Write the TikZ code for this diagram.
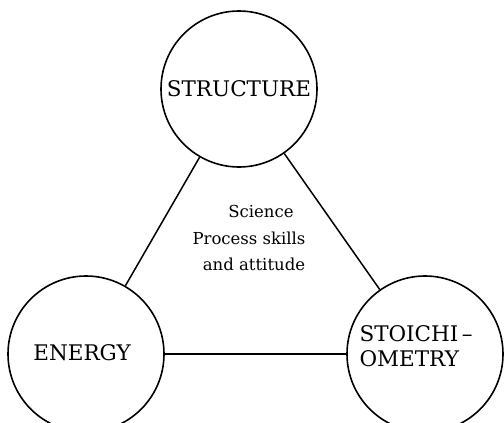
\documentclass[tikz,border=0pt]{standalone}
\usepackage{fontspec}
\setmainfont{DejaVu Serif}
\begin{document}
\begin{tikzpicture}[x=1pt,y=-1pt,
  topic/.style={circle,draw,line width=1.6pt,minimum size=156pt,inner sep=0pt,
    font=\fontsize{21.5}{27}\selectfont},
  link/.style={line width=1.5pt},
  core/.style={align=center,font=\fontsize{16.5}{26.5}\selectfont}]
  \useasboundingbox (0,0) rectangle (504,423);
  \clip (0,0) rectangle (504,423);
  % the three topic circles
  \node[topic] (structure) at (239,89) {STRUCTURE};
  \node[topic] (energy) at (86,354) {};
  \node[topic] (stoich) at (425,354) {};
  \node[font=\fontsize{21.5}{27}\selectfont] (energylabel) at (82,353) {ENERGY};
  \node[font=\fontsize{21.5}{25}\selectfont,align=left,anchor=west] (stoichlabel) at (356,346)
    {STOICHI\,--\\OMETRY};
  % links between the topics
  \draw[link] (structure) -- (energy);
  \draw[link] (structure) -- (stoich);
  \draw[link] (energy) -- (stoich);
  % the centre of the triangle
  \node[core] (skills) at (249,238)
    {\hspace*{24pt}Science\\Process skills\\\hspace*{10pt}and attitude};
\end{tikzpicture}
\end{document}
